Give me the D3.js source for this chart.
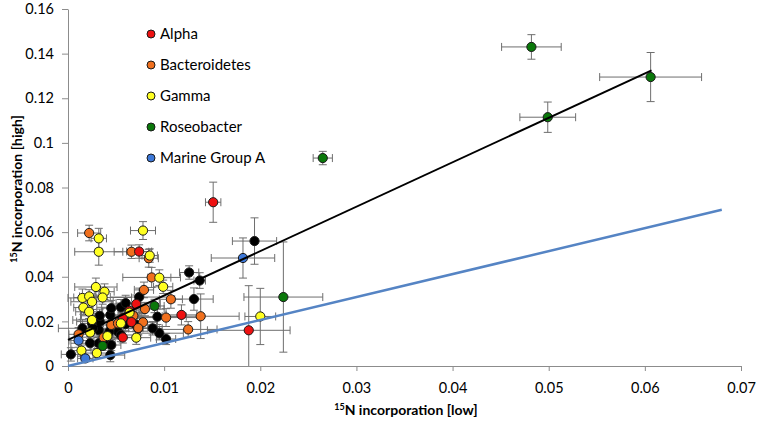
<!DOCTYPE html>
<html>
<head>
<meta charset="utf-8">
<script src="https://cdn.jsdelivr.net/npm/d3@7"></script>
<style>
  body { margin: 0; background: #fff; }
  svg { font-family: Lato, "Open Sans", sans-serif; }
</style>
</head>
<body>
<svg width="757" height="424"></svg>
<script>
// points as [x (low), y (high), x error, y error]
var other = [
  [0.0194, 0.0560, 0.0023, 0.0104], [0.0137, 0.0383, 0.0006, 0.0035], [0.0126, 0.0419, 0.0010, 0.0030],
  [0.0131, 0.0300, 0.0020, 0.0050], [0.0074, 0.0309, 0.0030, 0.0040], [0.0055, 0.0263, 0.0025, 0.0035],
  [0.0102, 0.0121, 0.0010, 0.0025], [0.0095, 0.0147, 0.0025, 0.0030], [0.0088, 0.0169, 0.0010, 0.0030],
  [0.0093, 0.0221, 0.0030, 0.0035], [0.0073, 0.0169, 0.0010, 0.0030], [0.0003, 0.0052, 0.0010, 0.0030],
  [0.0023, 0.0102, 0.0020, 0.0030], [0.0032, 0.0102, 0.0010, 0.0025], [0.0044, 0.0049, 0.0015, 0.0030],
  [0.0045, 0.0094, 0.0010, 0.0025], [0.0052, 0.0154, 0.0022, 0.0030], [0.0044, 0.0229, 0.0030, 0.0040],
  [0.0045, 0.0259, 0.0010, 0.0035], [0.0033, 0.0199, 0.0024, 0.0035], [0.0032, 0.0161, 0.0010, 0.0030],
  [0.0071, 0.0184, 0.0022, 0.0030], [0.0060, 0.0188, 0.0010, 0.0030], [0.0015, 0.0169, 0.0025, 0.0040],
  [0.0025, 0.0191, 0.0012, 0.0035], [0.0033, 0.0225, 0.0020, 0.0030], [0.0037, 0.0109, 0.0012, 0.0025],
  [0.0055, 0.0139, 0.0020, 0.0030], [0.0026, 0.0169, 0.0010, 0.0030], [0.0043, 0.0154, 0.0012, 0.0030],
  [0.0060, 0.0282, 0.0010, 0.0035]
];
var bacteroidetes = [
  [0.0022, 0.0596, 0.0012, 0.0035], [0.0066, 0.0512, 0.0018, 0.0030], [0.0084, 0.0483, 0.0010, 0.0040],
  [0.0087, 0.0397, 0.0030, 0.0045], [0.0079, 0.0341, 0.0010, 0.0035], [0.0107, 0.0299, 0.0012, 0.0040],
  [0.0138, 0.0223, 0.0040, 0.0100], [0.0125, 0.0164, 0.0030, 0.0035], [0.0102, 0.0217, 0.0035, 0.0040],
  [0.0080, 0.0255, 0.0020, 0.0030], [0.0078, 0.0196, 0.0014, 0.0040], [0.0068, 0.0225, 0.0008, 0.0030],
  [0.0011, 0.0142, 0.0010, 0.0030], [0.0045, 0.0184, 0.0022, 0.0035], [0.0052, 0.0191, 0.0010, 0.0030],
  [0.0073, 0.0170, 0.0015, 0.0030], [0.0037, 0.0128, 0.0010, 0.0025]
];
var alpha = [
  [0.0151, 0.0734, 0.0008, 0.0090], [0.0188, 0.0160, 0.0043, 0.0200], [0.0118, 0.0229, 0.0016, 0.0045],
  [0.0074, 0.0513, 0.0013, 0.0030], [0.0071, 0.0278, 0.0025, 0.0040], [0.0064, 0.0247, 0.0010, 0.0035],
  [0.0057, 0.0215, 0.0015, 0.0040], [0.0066, 0.0197, 0.0009, 0.0030], [0.0057, 0.0128, 0.0011, 0.0025]
];
var gamma = [
  [0.0078, 0.0607, 0.0013, 0.0040], [0.0032, 0.0572, 0.0008, 0.0045], [0.0032, 0.0512, 0.0025, 0.0060],
  [0.0085, 0.0495, 0.0008, 0.0030], [0.0095, 0.0396, 0.0012, 0.0035], [0.0099, 0.0355, 0.0010, 0.0030],
  [0.0029, 0.0354, 0.0022, 0.0040], [0.0038, 0.0333, 0.0010, 0.0035], [0.0036, 0.0307, 0.0030, 0.0030],
  [0.0015, 0.0305, 0.0015, 0.0040], [0.0022, 0.0312, 0.0010, 0.0030], [0.0025, 0.0288, 0.0022, 0.0035],
  [0.0016, 0.0262, 0.0010, 0.0030], [0.0022, 0.0243, 0.0014, 0.0030], [0.0025, 0.0206, 0.0020, 0.0030],
  [0.0023, 0.0150, 0.0012, 0.0025], [0.0041, 0.0134, 0.0010, 0.0030], [0.0014, 0.0069, 0.0010, 0.0025],
  [0.0030, 0.0058, 0.0012, 0.0020], [0.0071, 0.0127, 0.0015, 0.0030], [0.0055, 0.0191, 0.0010, 0.0030],
  [0.0064, 0.0239, 0.0012, 0.0030], [0.0200, 0.0222, 0.0016, 0.0126]
];
var roseobacter = [
  [0.0482, 0.1430, 0.0031, 0.0055], [0.0606, 0.1295, 0.0053, 0.0110], [0.0499, 0.1115, 0.0029, 0.0068],
  [0.0265, 0.0932, 0.0010, 0.0030], [0.0224, 0.0309, 0.0041, 0.0247], [0.0036, 0.0090, 0.0008, 0.0020],
  [0.0090, 0.0269, 0.0010, 0.0030]
];
var marineA = [
  [0.0182, 0.0484, 0.0033, 0.0090], [0.0011, 0.0114, 0.0010, 0.0030], [0.0018, 0.0034, 0.0008, 0.0015]
];

var groups = [
  { name: null, pts: other, color: "#000000" },
  { name: "Bacteroidetes", pts: bacteroidetes, color: "#f0701e" },
  { name: "Alpha", pts: alpha, color: "#ee1111" },
  { name: "Gamma", pts: gamma, color: "#ffff22" },
  { name: "Roseobacter", pts: roseobacter, color: "#0a780a" },
  { name: "Marine Group A", pts: marineA, color: "#3d78d8" }
];
var legendOrder = ["Alpha", "Bacteroidetes", "Gamma", "Roseobacter", "Marine Group A"];

// fitted lines: [x0, y0, x1, y1]
var fitLine = [0, 0.0117, 0.0607, 0.1325];
var refLine = [0, 0, 0.068, 0.070];

var xTicks = [0, 0.01, 0.02, 0.03, 0.04, 0.05, 0.06, 0.07];
var xTickLabels = ["0", "0.01", "0.02", "0.03", "0.04", "0.05", "0.06", "0.07"];
var yTicks = [0, 0.02, 0.04, 0.06, 0.08, 0.1, 0.12, 0.14, 0.16];
var yTickLabels = ["0", "0.02", "0.04", "0.06", "0.08", "0.1", "0.12", "0.14", "0.16"];

var svg = d3.select("svg");
var x = d3.scaleLinear().domain([0, 0.07]).range([68, 741]);
var y = d3.scaleLinear().domain([0, 0.16]).range([366, 9]);

svg.append("defs").append("clipPath").attr("id", "clip")
   .append("rect").attr("x", 0).attr("y", 0).attr("width", 757).attr("height", 366);

// axes
var xAxis = svg.append("g")
   .attr("transform", "translate(0,366)")
   .call(d3.axisBottom(x).tickValues(xTicks)
     .tickFormat(function(d, i) { return xTickLabels[i]; })
     .tickSize(5).tickSizeOuter(0).tickPadding(12));
var yAxis = svg.append("g")
   .attr("transform", "translate(68,0)")
   .call(d3.axisLeft(y).tickValues(yTicks)
     .tickFormat(function(d, i) { return yTickLabels[i]; })
     .tickSize(6).tickSizeOuter(0).tickPadding(8));
[xAxis, yAxis].forEach(function(a) {
  a.select(".domain").attr("stroke", "#8c8c8c");
  a.selectAll(".tick line").attr("stroke", "#8c8c8c");
  a.selectAll(".tick text").attr("font-size", "14.5px").attr("fill", "#000")
   .attr("font-family", "Lato, sans-serif");
});

// error bars
var eb = svg.append("g").attr("clip-path", "url(#clip)")
   .attr("stroke", "#6e6e6e").attr("stroke-width", 1).attr("fill", "none");
var cap = 4;
groups.forEach(function(g) {
  g.pts.forEach(function(p) {
    var cx = x(p[0]), cy = y(p[1]);
    var xl = x(p[0] - p[2]), xr = x(p[0] + p[2]);
    var yt = y(p[1] + p[3]), yb = y(p[1] - p[3]);
    eb.append("line").attr("x1", xl).attr("x2", xr).attr("y1", cy).attr("y2", cy);
    eb.append("line").attr("x1", xl).attr("x2", xl).attr("y1", cy - cap).attr("y2", cy + cap);
    eb.append("line").attr("x1", xr).attr("x2", xr).attr("y1", cy - cap).attr("y2", cy + cap);
    eb.append("line").attr("x1", cx).attr("x2", cx).attr("y1", yt).attr("y2", yb);
    eb.append("line").attr("x1", cx - cap).attr("x2", cx + cap).attr("y1", yt).attr("y2", yt);
    eb.append("line").attr("x1", cx - cap).attr("x2", cx + cap).attr("y1", yb).attr("y2", yb);
  });
});

// markers
groups.forEach(function(g) {
  svg.append("g").selectAll("circle")
     .data(g.pts)
     .enter()
     .append("circle")
     .attr("cx", function(d) { return x(d[0]); })
     .attr("cy", function(d) { return y(d[1]); })
     .attr("r", 4.6)
     .attr("fill", g.color)
     .attr("stroke", "#1a1a1a")
     .attr("stroke-width", 1);
});

// lines
svg.append("line")
   .attr("x1", x(refLine[0])).attr("y1", y(refLine[1]))
   .attr("x2", x(refLine[2])).attr("y2", y(refLine[3]))
   .attr("stroke", "#5584c4").attr("stroke-width", 2.5);
svg.append("line")
   .attr("x1", x(fitLine[0])).attr("y1", y(fitLine[1]))
   .attr("x2", x(fitLine[2])).attr("y2", y(fitLine[3]))
   .attr("stroke", "#000").attr("stroke-width", 2);

// legend
var leg = svg.append("g");
legendOrder.forEach(function(name, i) {
  var g = groups.filter(function(d) { return d.name === name; })[0];
  var ly = 34 + i * 31;
  leg.append("circle").attr("cx", 151).attr("cy", ly).attr("r", 4)
     .attr("fill", g.color).attr("stroke", "#1a1a1a").attr("stroke-width", 1);
  leg.append("text").attr("x", 160).attr("y", ly + 5)
     .attr("font-size", "15px").text(name);
});

// axis titles
var xt = svg.append("text")
   .attr("x", 406).attr("y", 415)
   .attr("text-anchor", "middle")
   .attr("font-size", "14px").attr("font-weight", "bold");
xt.append("tspan").attr("font-size", "9px").attr("dy", "-5").text("15");
xt.append("tspan").attr("dy", "5").text("N incorporation [low]");

var yt = svg.append("text")
   .attr("transform", "translate(22,189) rotate(-90)")
   .attr("text-anchor", "middle")
   .attr("font-size", "14px").attr("font-weight", "bold");
yt.append("tspan").attr("font-size", "9px").attr("dy", "-5").text("15");
yt.append("tspan").attr("dy", "5").text("N incorporation [high]");
</script>
</body>
</html>
